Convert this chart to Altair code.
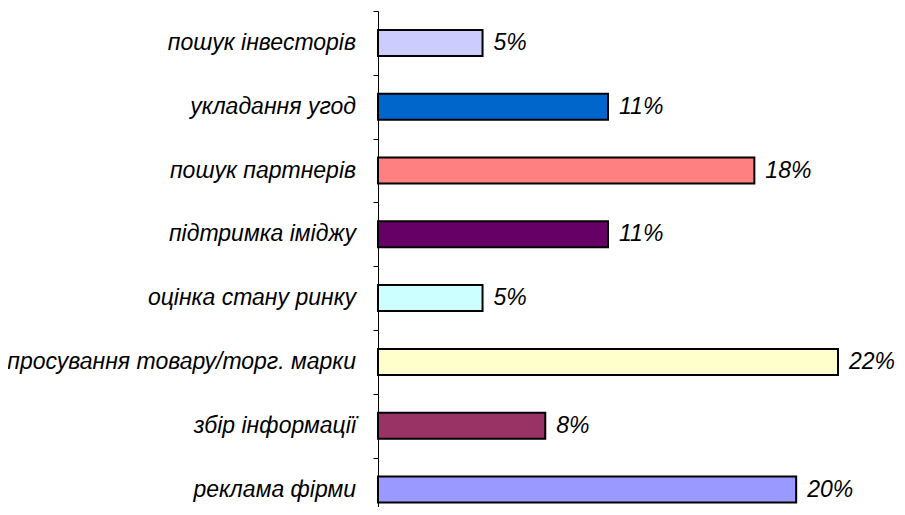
import altair as alt
import pandas as pd

categories = [
    "пошук інвесторів",
    "укладання угод",
    "пошук партнерів",
    "підтримка іміджу",
    "оцінка стану ринку",
    "просування товару/торг. марки",
    "збір інформації",
    "реклама фірми",
]
values = [5, 11, 18, 11, 5, 22, 8, 20]
colors = ["#CCCCFF", "#0066CC", "#FF8080", "#660066", "#CCFFFF", "#FFFFCC", "#993366", "#9999FF"]
boundaries = [0, 1, 2, 3, 4, 5, 6, 7]

half = 0.204
df = pd.DataFrame({
    "cat": categories,
    "val": values,
    "pos": [i + 0.5 for i in range(len(categories))],
})
df["y0"] = df["pos"] - half
df["y1"] = df["pos"] + half
df["lbl"] = [f"{v}%" for v in values]

H = 496
STEP = 63.8
ymax = H / STEP

yscale = alt.Scale(domain=[0, ymax], reverse=True, nice=False, zero=False)
xscale = alt.Scale(domain=[0, 22], nice=False)

base = alt.Chart(df)

bars = base.mark_rect(stroke="black", strokeWidth=2).encode(
    x=alt.X("val:Q", scale=xscale, axis=None),
    x2=alt.datum(0),
    y=alt.Y("y0:Q", scale=yscale,
            axis=alt.Axis(values=boundaries, labels=False, tickSize=5, grid=False,
                          domainColor="black", tickColor="black", title=None,
                          domainWidth=1, tickWidth=1)),
    y2="y1:Q",
    color=alt.Color("cat:N", scale=alt.Scale(domain=categories, range=colors), legend=None),
)

pct = base.mark_text(align="left", baseline="middle", dx=11, font="Liberation Sans",
                     fontStyle="italic", fontSize=23, color="black").encode(
    x=alt.X("val:Q", scale=xscale),
    y=alt.Y("pos:Q", scale=yscale),
    text="lbl:N",
)

cats = base.mark_text(align="right", baseline="middle", dx=-22, font="Liberation Sans",
                      fontStyle="italic", fontSize=23, color="black").encode(
    x=alt.datum(0, scale=xscale),
    y=alt.Y("pos:Q", scale=yscale),
    text="cat:N",
)

chart = alt.layer(bars, pct, cats).properties(
    width=460,
    height=H,
    autosize=alt.AutoSizeParams(type="none"),
    padding={"left": 370, "top": 3, "right": 59, "bottom": 0},
).configure_view(strokeWidth=0)

chart.save("out.html", embed_options={"renderer": "svg", "actions": False})
